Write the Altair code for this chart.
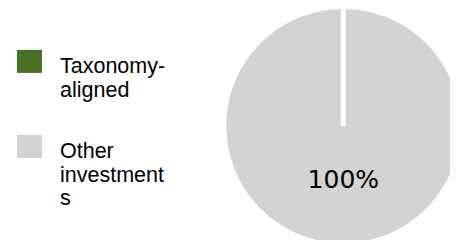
import altair as alt
import pandas as pd

categories = ["Taxonomy-aligned", "Other investments"]
legend_labels = ["Taxonomy-\naligned", "Other\ninvestment\ns"]
shares = [0, 100]
colors = ["#4A7023", "#D3D3D3"]

df = pd.DataFrame({"category": categories, "label": legend_labels, "share": shares})

W, H = 442, 232
cx, cy, R = 335.3, 118, 119.5

color = alt.Color("category:N", scale=alt.Scale(domain=categories, range=colors), legend=None)
# tiny headroom in the domain so the full slice keeps its radial (white) border edge
theta = alt.Theta("share:Q", stack=True, scale=alt.Scale(domain=[0, 100.001]))
yscale = alt.Scale(type="point", domain=categories, range=[53.4, 138.4], padding=0)

pie = alt.Chart(df).mark_arc(outerRadius=R, stroke="white", strokeWidth=5,
                             strokeJoin="bevel").encode(
    theta=theta, color=color, x=alt.value(cx), y=alt.value(cy)
)

pct = alt.Chart(df).transform_filter("datum.share > 0").transform_calculate(
    pct="datum.share + '%'"
).mark_text(radius=62, font="DejaVu Sans", fontSize=25, baseline="alphabetic",
            align="center", color="#000000").encode(
    theta=theta, text="pct:N", x=alt.value(cx), y=alt.value(cy)
)

sq = alt.Chart(df).mark_point(shape="M-1,-0.92L1,-0.92L1,0.92L-1,0.92Z", filled=True,
                              size=625, opacity=1).encode(
    x=alt.value(21.5), y=alt.Y("category:N", scale=yscale, axis=None), color=color
)

txt = alt.Chart(df).mark_text(align="left", baseline="alphabetic", dy=12, lineBreak="\n",
                              lineHeight=23.5, font="Liberation Sans", fontSize=21.5,
                              color="#000000").encode(
    x=alt.value(52), y=alt.Y("category:N", scale=yscale, axis=None), text="label:N"
)

chart = alt.layer(pie, pct, sq, txt).properties(
    width=W, height=H, autosize="none", padding=0
).configure_view(stroke=None)

chart.save("out.html", embed_options={"renderer": "svg", "actions": False})
